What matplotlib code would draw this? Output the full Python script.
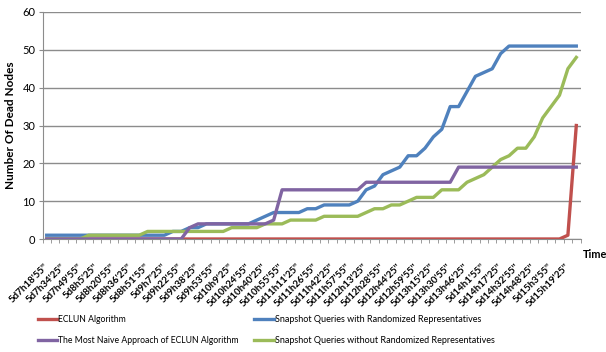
import numpy as np
import matplotlib.pyplot as plt
from matplotlib.lines import Line2D

plt.rcParams["font.family"] = ["Lato", "DejaVu Sans"]

# sample times (one label every second sample)
time_labels = ["5d7h18'55''", "5d7h34'25''", "5d7h49'55''", "5d8h5'25''", "5d8h20'55''",
               "5d8h36'25''", "5d8h51'55''", "5d9h7'25''", "5d9h22'55''", "5d9h38'25''",
               "5d9h53'55''", "5d10h9'25''", "5d10h24'55''", "5d10h40'25''", "5d10h55'55''",
               "5d11h11'25''", "5d11h26'55''", "5d11h42'25''", "5d11h57'55''", "5d12h13'25''",
               "5d12h28'55''", "5d12h44'25''", "5d12h59'55''", "5d13h15'25''", "5d13h30'55''",
               "5d13h46'25''", "5d14h1'55''", "5d14h17'25''", "5d14h32'55''", "5d14h48'25''",
               "5d15h3'55''", "5d15h19'25''"]

eclun = [0, 0, 0, 0, 0, 0, 0, 0, 0, 0, 0, 0, 0, 0, 0, 0,
         0, 0, 0, 0, 0, 0, 0, 0, 0, 0, 0, 0, 0, 0, 0, 0,
         0, 0, 0, 0, 0, 0, 0, 0, 0, 0, 0, 0, 0, 0, 0, 0,
         0, 0, 0, 0, 0, 0, 0, 0, 0, 0, 0, 0, 0, 0, 1, 30]
snap_rand = [1, 1, 1, 1, 1, 1, 1, 1, 1, 1, 1, 1, 1, 1, 1, 2,
             2, 3, 3, 4, 4, 4, 4, 4, 4, 5, 6, 7, 7, 7, 7, 8,
             8, 9, 9, 9, 9, 10, 13, 14, 17, 18, 19, 22, 22, 24, 27, 29,
             35, 35, 39, 43, 44, 45, 49, 51, 51, 51, 51, 51, 51, 51, 51, 51]
naive = [0, 0, 0, 0, 0, 0, 0, 0, 0, 0, 0, 0, 0, 0, 0, 0,
         0, 3, 4, 4, 4, 4, 4, 4, 4, 4, 4, 5, 13, 13, 13, 13,
         13, 13, 13, 13, 13, 13, 15, 15, 15, 15, 15, 15, 15, 15, 15, 15,
         15, 19, 19, 19, 19, 19, 19, 19, 19, 19, 19, 19, 19, 19, 19, 19]
snap_norand = [0, 0, 0, 0, 0, 1, 1, 1, 1, 1, 1, 1, 2, 2, 2, 2,
               2, 2, 2, 2, 2, 2, 3, 3, 3, 3, 4, 4, 4, 5, 5, 5,
               5, 6, 6, 6, 6, 6, 7, 8, 8, 9, 9, 10, 11, 11, 11, 13,
               13, 13, 15, 16, 17, 19, 21, 22, 24, 24, 27, 32, 35, 38, 45, 48]

RED, BLUE, PURPLE, GREEN = "#C0504D", "#4F81BD", "#8064A2", "#9BBB59"
GRID = "#8C8C8C"

fig = plt.figure(figsize=(6.06, 3.52), dpi=100)
ax = fig.add_axes([42.5 / 606, 113 / 352, 538 / 606, 227 / 352])

x = np.arange(len(eclun))
lw = 2.4
ax.plot(x, eclun, color=RED, lw=lw, zorder=3)
ax.plot(x, snap_rand, color=BLUE, lw=lw, zorder=4)
ax.plot(x, snap_norand, color=GREEN, lw=lw, zorder=5)
ax.plot(x, naive, color=PURPLE, lw=lw, zorder=6)

ax.set_xlim(-0.5, len(x) - 0.5)
ax.set_ylim(0, 60)
ax.set_yticks(np.arange(0, 61, 10))
ax.yaxis.grid(True, color=GRID, lw=1.0)
ax.set_axisbelow(True)

ax.set_xticks(np.arange(0, len(x), 2))
ax.set_xticklabels(time_labels, rotation=45, ha="right", va="center",
                   rotation_mode="anchor", fontsize=7, fontweight="bold")
ax.set_xticks(np.arange(-0.5, len(x), 1), minor=True)
ax.tick_params(axis="x", which="major", length=0, pad=19)
ax.tick_params(axis="x", which="minor", length=3, color=GRID)
ax.tick_params(axis="y", length=3, color=GRID, labelsize=8, pad=2)

for side in ("top", "right"):
    ax.spines[side].set_visible(False)
for side in ("left", "bottom"):
    ax.spines[side].set_color(GRID)

ax.set_ylabel("Number Of Dead Nodes", fontsize=8.5, fontweight="bold", labelpad=5)
fig.text(583 / 606, 1 - 254 / 352, "Time", fontsize=7.8, fontweight="bold", va="center")

legend_kw = dict(loc="center left", frameon=False, handlelength=2.2,
                 handletextpad=0.15, labelspacing=1.35, borderaxespad=0, borderpad=0)
leg1 = fig.legend([Line2D([], [], color=RED, lw=lw), Line2D([], [], color=PURPLE, lw=lw)],
                  ["ECLUN Algorithm", "The Most Naive Approach of ECLUN Algorithm"],
                  bbox_to_anchor=(38 / 606, 1 - 330 / 352),
                  prop={"size": 6.2}, **legend_kw)
leg2 = fig.legend([Line2D([], [], color=BLUE, lw=lw), Line2D([], [], color=GREEN, lw=lw)],
                  ["Snapshot Queries with Randomized Representatives",
                   "Snapshot Queries without Randomized Representatives"],
                  bbox_to_anchor=(254 / 606, 1 - 330 / 352),
                  prop={"size": 6.5}, **legend_kw)

fig.savefig("out.png", dpi=100)
